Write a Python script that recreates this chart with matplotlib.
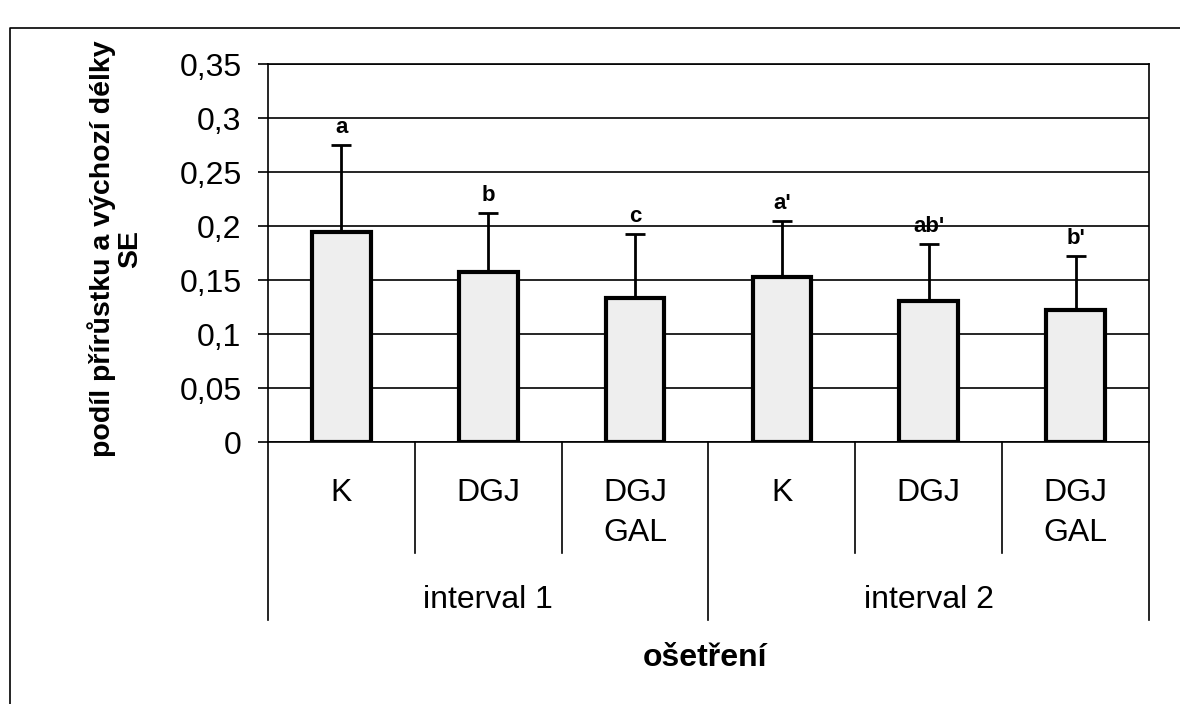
import numpy as np
import matplotlib
matplotlib.use("Agg")
import matplotlib.pyplot as plt
from matplotlib.lines import Line2D
import matplotlib.transforms as mtransforms

# data
sub_labels = ["K", "DGJ", "DGJ\nGAL", "K", "DGJ", "DGJ\nGAL"]
group_labels = ["interval 1", "interval 2"]
means = [0.194, 0.157, 0.133, 0.153, 0.131, 0.122]
se = [0.081, 0.055, 0.060, 0.052, 0.052, 0.050]
letters = ["a", "b", "c", "a'", "ab'", "b'"]
yticks = [0, 0.05, 0.1, 0.15, 0.2, 0.25, 0.3, 0.35]
ytick_labels = ["0", "0,05", "0,1", "0,15", "0,2", "0,25", "0,3", "0,35"]

plt.rcParams["font.family"] = ["Liberation Sans", "DejaVu Sans"]

W, H = 1180, 704
fig = plt.figure(figsize=(W / 100, H / 100), dpi=100)
ax = fig.add_axes([268 / W, 1 - 442 / H, (1149 - 268) / W, (442 - 64) / H])

x = np.arange(len(means))
ax.bar(x, means, width=0.4, color="#eeeeee", edgecolor="black", linewidth=3, zorder=3)
ax.errorbar(x, means, yerr=[np.zeros(len(se)), se], fmt="none", ecolor="black",
            elinewidth=2, capsize=7, capthick=2, zorder=2)

for xi, m, s, lab in zip(x, means, se, letters):
    ax.annotate(lab, (xi, m + s), xytext=(0, 5), textcoords="offset points",
                ha="center", va="bottom", fontsize=16, fontweight="bold")

ax.set_xlim(-0.5, len(means) - 0.5)
ax.set_ylim(0, 0.35)
ax.set_yticks(yticks)
ax.set_yticklabels(ytick_labels, fontsize=23)
ax.tick_params(axis="y", length=7, width=1.2, pad=12)
ax.set_xticks([])
ax.yaxis.grid(True, color="black", linewidth=1.2)
ax.set_axisbelow(True)
for sp in ax.spines.values():
    sp.set_linewidth(1.2)

# category table below the axis
trans = mtransforms.blended_transform_factory(ax.transData, ax.transAxes)
px = 1 / (442 - 64)  # one pixel in axes units (vertical)
for b in np.arange(-0.5, len(means), 1.0):
    is_group = (abs(b + 0.5) < 1e-9) or (abs(b - 2.5) < 1e-9) or (abs(b - 5.5) < 1e-9)
    depth = (620 - 442) * px if is_group else (553 - 442) * px
    ax.add_line(Line2D([b, b], [0, -depth], transform=trans, color="black",
                       linewidth=1.2, clip_on=False))

for xi, lab in zip(x, sub_labels):
    for k, line in enumerate(lab.split("\n")):
        ax.text(xi, -(493 - 442 + 40 * k) * px, line, transform=trans,
                ha="center", va="center", fontsize=23)

for g, lab in enumerate(group_labels):
    ax.text(3 * g + 1, -(600 - 442) * px, lab, transform=trans,
            ha="center", va="center", fontsize=23)

fig.text(705 / W, 1 - 658 / H, "ošetření", ha="center", va="center",
         fontsize=23, fontweight="bold")
fig.text(115 / W, 1 - 249 / H, "podíl přírůstku a výchozí délky\nSE",
         rotation=90, ha="center", va="center", multialignment="center",
         fontsize=20.5, fontweight="bold", linespacing=1.05)

# outer frame (only left and top edges are visible)
fig.add_artist(Line2D([10 / W, 10 / W, 1.05], [-0.05, 1 - 28 / H, 1 - 28 / H],
                      transform=fig.transFigure, color="black", linewidth=1.2))

fig.savefig("out.png", dpi=100)
